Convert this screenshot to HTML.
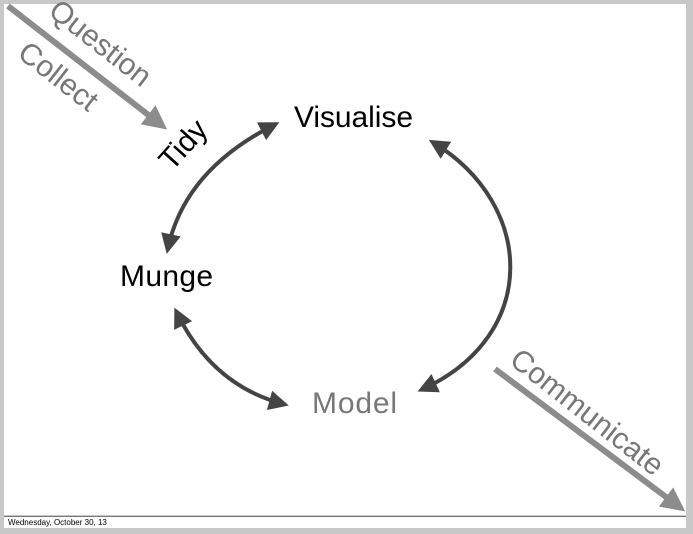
<!DOCTYPE html>
<html><head><style>
html,body{margin:0;padding:0;}
body{width:693px;height:534px;background:#c8c8c8;position:relative;overflow:hidden;font-family:"Liberation Sans",Arial,sans-serif;}
#slide{position:absolute;left:4px;top:4px;width:682px;height:511px;background:#fff;}
#foot{position:absolute;left:4px;top:516px;width:682px;height:12px;background:#fff;border-top:1px solid #777;font-size:8px;line-height:11px;padding-left:4px;box-sizing:border-box;}
svg{position:absolute;left:0;top:0;}
</style></head><body>
<div id="slide"></div>
<div id="foot">Wednesday, October 30, 13</div>
<svg width="693" height="534" viewBox="0 0 693 534">
<defs>
<marker id="d" markerWidth="5" markerHeight="5" refX="3.5" refY="2.5" orient="auto-start-reverse" markerUnits="strokeWidth"><path d="M0,0 L5,2.5 L0,5 Z" fill="#444"/></marker>
<marker id="g" markerWidth="4" markerHeight="4" refX="2.5" refY="2" orient="auto" markerUnits="strokeWidth"><path d="M0,0 L4,2 L0,4 Z" fill="#8c8c8c"/></marker>
</defs>
<g fill="none" stroke="#444" stroke-width="4">
<path d="M274,125 Q185,170 168,248" marker-start="url(#d)" marker-end="url(#d)"/>
<path d="M177,313 Q212,385 283,404" marker-start="url(#d)" marker-end="url(#d)"/>
<path d="M434,143 C535,205 540,335 423,389" marker-start="url(#d)" marker-end="url(#d)"/>
</g>
<g stroke="#8c8c8c" stroke-width="6" fill="none">
<line x1="8" y1="6" x2="160" y2="124" marker-end="url(#g)"/>
<line x1="495" y1="369" x2="678" y2="506" marker-end="url(#g)"/>
</g>
<g font-family="Liberation Sans, Arial, sans-serif" font-size="30">
<text x="294" y="127" fill="#000" textLength="119">Visualise</text>
<text x="120" y="286" fill="#000" textLength="93">Munge</text>
<text x="312" y="413" fill="#777" textLength="85">Model</text>
<text transform="translate(172,172) rotate(-48)" fill="#000">Tidy</text>
<text transform="translate(47,14) rotate(38)" fill="#777">Question</text>
<text transform="translate(16,56) rotate(38)" fill="#777">Collect</text>
<text transform="translate(508,363) rotate(38)" fill="#777">Communicate</text>
</g>
</svg>
</body></html>
